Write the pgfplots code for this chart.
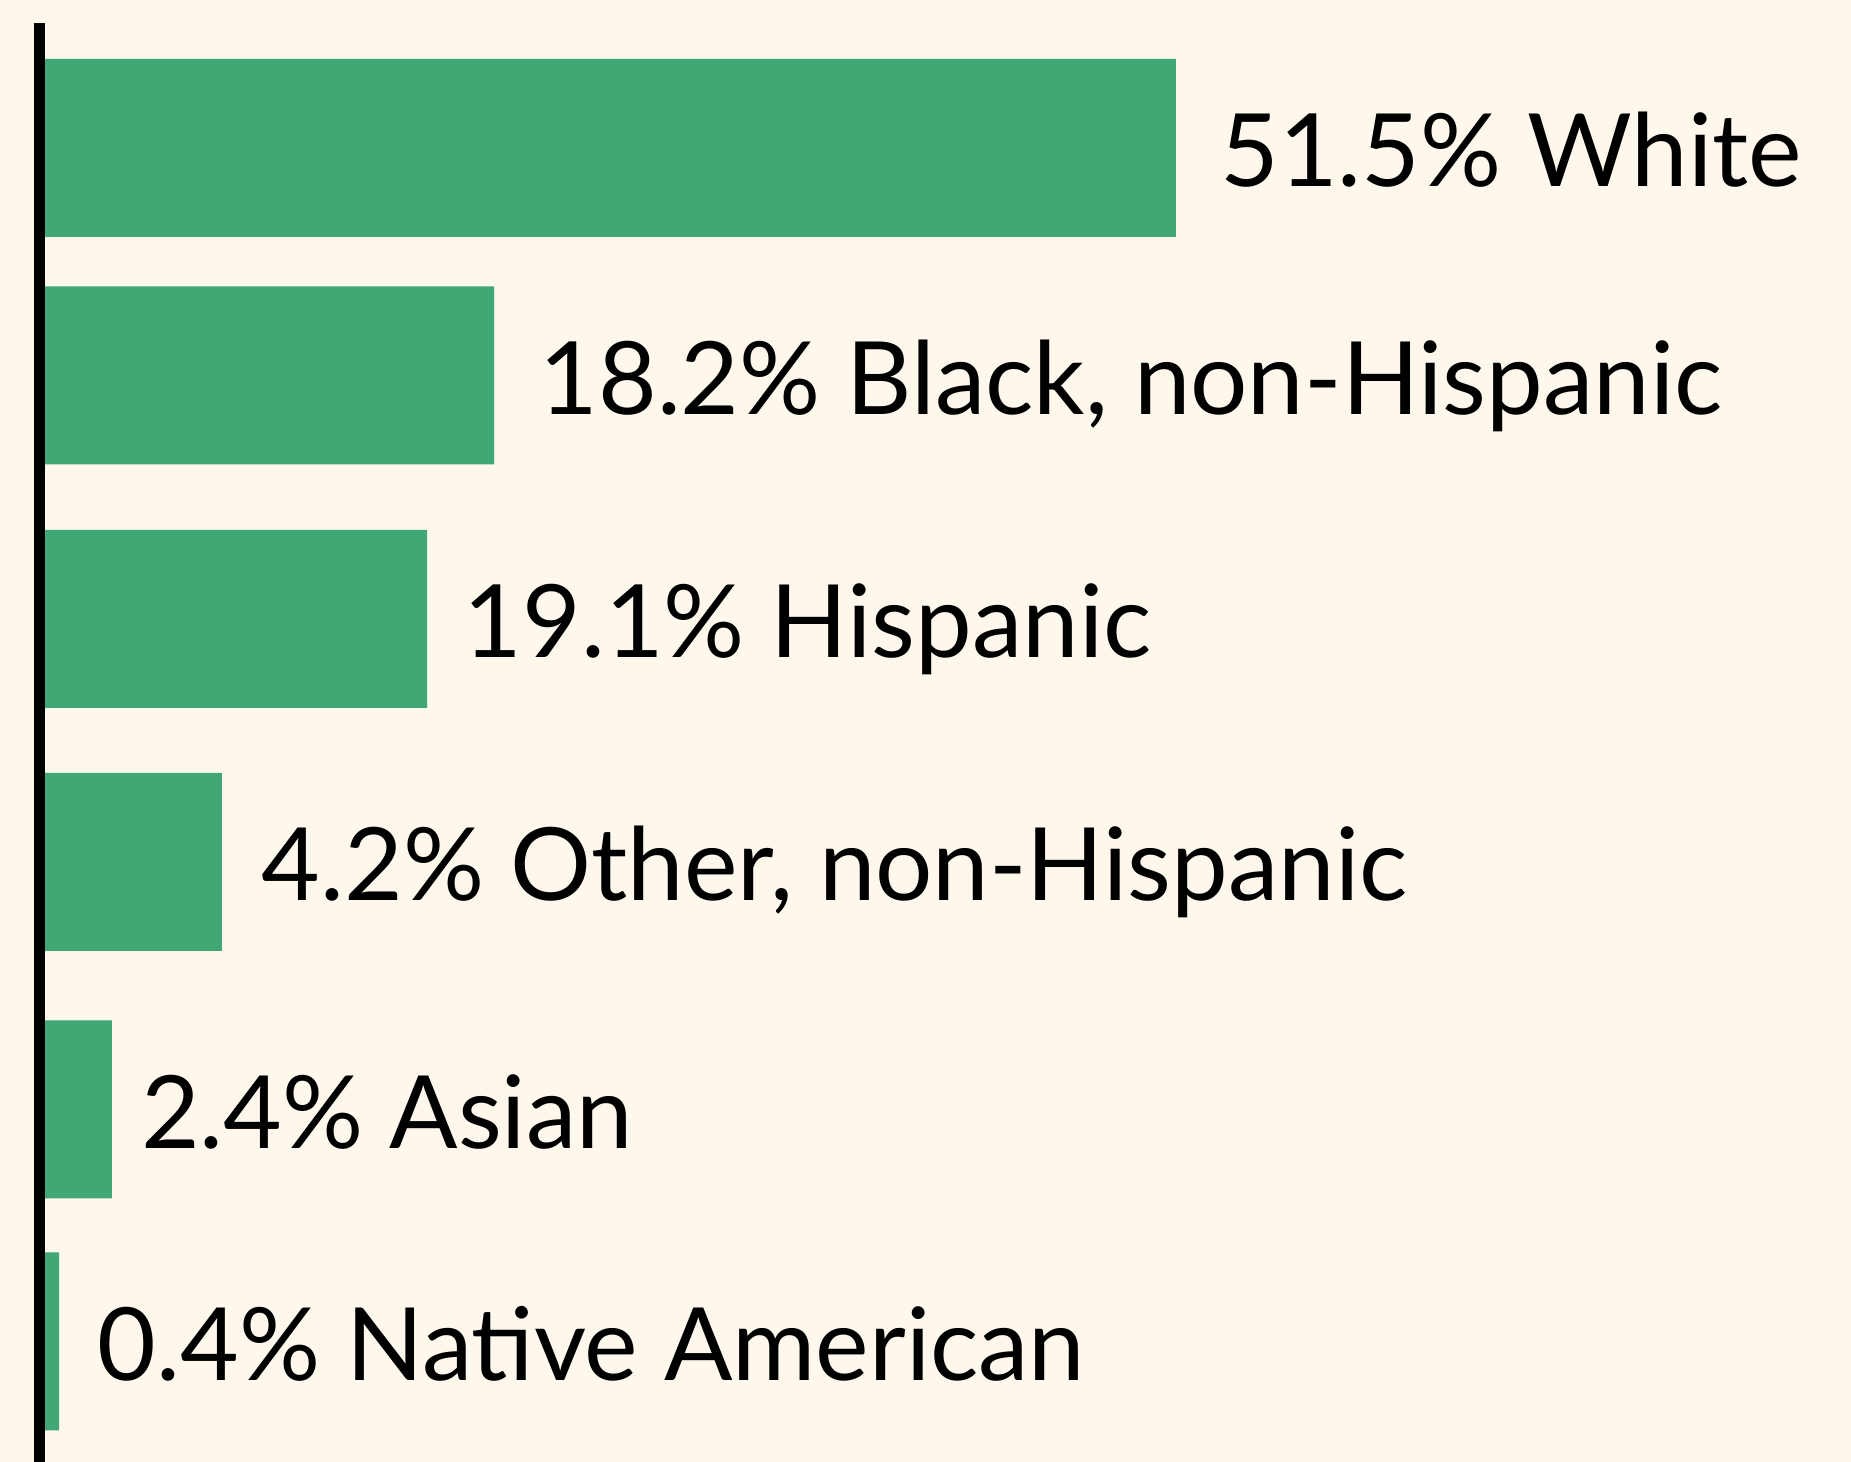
\documentclass[border=0pt]{standalone}
\usepackage{pgfplots}
\pgfplotsset{compat=1.18}
\usepackage{fontspec}
\setmainfont{Lato}
\definecolor{bg}{RGB}{254,247,236}
\definecolor{barc}{RGB}{65,167,116}
\begin{document}
\begin{tikzpicture}
\fill[bg] (-9.875pt,0) rectangle (452.875pt,365.5pt);
\begin{axis}[
  at={(0,0)}, anchor=south west,
  x=5.49pt, y=0.25pt,
  xmin=-0.2505, xmax=82.2, ymin=-1462, ymax=-23,
  axis lines=none,
  xtick=\empty, ytick=\empty,
  xbar, bar width=44.5pt,
  point meta=explicit symbolic,
  visualization depends on={value \thisrow{dx} \as \dx},
  nodes near coords,
  nodes near coords style={anchor=base west, inner sep=0pt, xshift=\dx pt, yshift=-9.75pt, font=\fontsize{25.3}{30}\selectfont, text=black},
  clip=false,
]
\addplot[fill=barc, draw=none] table[x=x, y=y, meta=label] {
x y dx label
51.5 -148 10.9 {51.5\% White}
20.45 -375.5 11.2 {18.2\% Black, non-Hispanic}
17.40 -619 9.0 {19.1\% Hispanic}
8.06 -862 9.8 {4.2\% Other, non-Hispanic}
3.05 -1109.5 7.1 {2.4\% Asian}
0.64 -1341.5 9.5 {0.4\% Native American}
};
\draw[black, line width=2.75pt] (axis cs:-0.2505,-1462) -- (axis cs:-0.2505,-23);
\end{axis}
\pgfresetboundingbox
\path[use as bounding box] (-9.875pt,0) rectangle (452.875pt,365.5pt);
\end{tikzpicture}
\end{document}
